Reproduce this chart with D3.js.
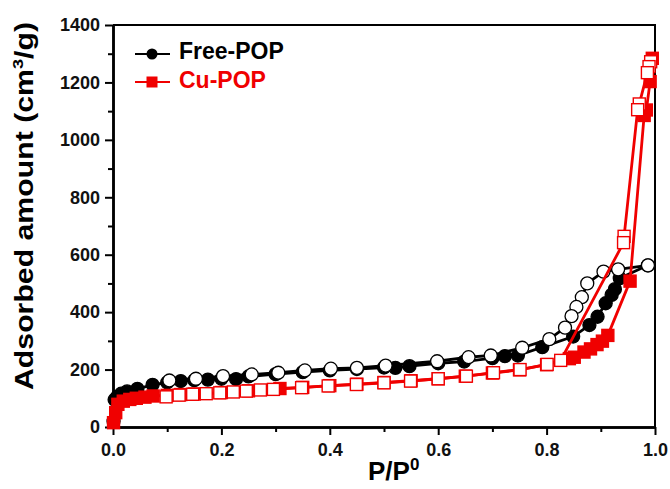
<!DOCTYPE html>
<html>
<head>
<meta charset="utf-8">
<script src="https://cdn.jsdelivr.net/npm/d3@7"></script>
<style>
  body { margin: 0; background: #fff; }
  svg { font-family: "Liberation Sans", Arial, sans-serif; font-weight: bold; }
</style>
</head>
<body>
<svg id="chart" width="670" height="489"></svg>
<script>
// isotherm data: [P/P0, adsorbed amount]
const freeAds = [
  [0.001, 20], [0.003, 95], [0.008, 106], [0.015, 116], [0.026, 124], [0.045, 133],
  [0.073, 147], [0.1, 155], [0.125, 160], [0.15, 163], [0.175, 165], [0.2, 168],
  [0.227, 167], [0.25, 176], [0.3, 184], [0.35, 191], [0.4, 197], [0.45, 202],
  [0.5, 207], [0.521, 206], [0.547, 212], [0.6, 222], [0.648, 228], [0.7, 240],
  [0.723, 247], [0.747, 249], [0.792, 278], [0.849, 315], [0.879, 355], [0.894, 384],
  [0.909, 431], [0.92, 460], [0.926, 480], [0.935, 518], [0.987, 563]
];
const freeDes = [
  [0.987, 563], [0.932, 549], [0.905, 541], [0.875, 500], [0.865, 452], [0.855, 418],
  [0.846, 386], [0.834, 346], [0.805, 306], [0.755, 276], [0.697, 249], [0.656, 243],
  [0.598, 229], [0.503, 214], [0.45, 206], [0.402, 203], [0.354, 197], [0.305, 189],
  [0.256, 183], [0.203, 177], [0.153, 168], [0.104, 162]
];
const cuAds = [
  [0.001, 15], [0.005, 50], [0.009, 79], [0.019, 90], [0.031, 96], [0.043, 100],
  [0.059, 104], [0.074, 108], [0.1, 110], [0.125, 113], [0.15, 115], [0.2, 120],
  [0.25, 126], [0.308, 134], [0.35, 138], [0.4, 144], [0.45, 149], [0.5, 155],
  [0.55, 161], [0.6, 168], [0.65, 177], [0.7, 188], [0.75, 199], [0.8, 217],
  [0.842, 238], [0.851, 243], [0.869, 261], [0.881, 272], [0.893, 287], [0.903, 299],
  [0.913, 319], [0.954, 508], [0.98, 1085], [0.984, 1104], [0.991, 1203], [0.995, 1284]
];
const cuDes = [
  [0.992, 1272], [0.989, 1255], [0.986, 1234], [0.971, 1125], [0.968, 1105],
  [0.943, 664], [0.942, 642], [0.826, 232], [0.801, 218], [0.751, 200], [0.702, 189],
  [0.652, 177], [0.6, 168], [0.549, 160], [0.5, 154], [0.449, 148], [0.397, 143],
  [0.348, 137], [0.296, 131], [0.272, 129], [0.246, 125], [0.222, 122], [0.197, 119],
  [0.172, 116], [0.147, 114], [0.122, 111], [0.098, 105]
];

const xTicks = [0, 0.2, 0.4, 0.6, 0.8, 1.0];
const xMinor = [0.1, 0.3, 0.5, 0.7, 0.9];
const yTicks = [0, 200, 400, 600, 800, 1000, 1200, 1400];
const yMinor = [100, 300, 500, 700, 900, 1100, 1300];

const legendNames = ["Free-POP", "Cu-POP"];

const RED = "#f00000";

const svg = d3.select("#chart");
const m = { left: 113, right: 655, top: 25, bottom: 427 };

const x = d3.scaleLinear().domain([0, 1]).range([m.left, m.right]);
const y = d3.scaleLinear().domain([0, 1400]).range([m.bottom, m.top]);

// frame (top + right)
svg.append("path")
  .attr("d", `M${m.left},${m.top}H${m.right}V${m.bottom}`)
  .attr("fill", "none").attr("stroke", "#000").attr("stroke-width", 2);

// axes
svg.append("g").attr("transform", `translate(0,${m.bottom})`)
  .call(d3.axisBottom(x).tickValues(xTicks).tickFormat(d3.format(".1f"))
    .tickSize(8).tickPadding(8).tickSizeOuter(0));
svg.append("g").attr("transform", `translate(0,${m.bottom})`)
  .call(d3.axisBottom(x).tickValues(xMinor).tickFormat("").tickSize(5).tickSizeOuter(0));

svg.append("g").attr("transform", `translate(${m.left},0)`)
  .call(d3.axisLeft(y).tickValues(yTicks).tickFormat(d3.format("d"))
    .tickSize(8).tickPadding(5).tickSizeOuter(0));
svg.append("g").attr("transform", `translate(${m.left},0)`)
  .call(d3.axisLeft(y).tickValues(yMinor).tickFormat("").tickSize(5).tickSizeOuter(0));

svg.selectAll(".domain").attr("stroke-width", 2.5);
svg.selectAll(".tick line").attr("stroke-width", 2);
svg.selectAll(".tick text")
  .attr("font-size", 18).attr("font-weight", "bold")
  .attr("font-family", "'Liberation Sans', Arial, sans-serif").attr("fill", "#111");

// axis titles
const yTitle = svg.append("text")
  .attr("transform", "translate(33,206) rotate(-90)")
  .attr("text-anchor", "middle")
  .attr("font-size", 25)
  .attr("textLength", 368).attr("lengthAdjust", "spacingAndGlyphs");
yTitle.append("tspan").text("Adsorbed amount (cm");
yTitle.append("tspan").attr("font-size", 15).attr("dy", -10).text("3");
yTitle.append("tspan").attr("dy", 10).text("/g)");

const xTitle = svg.append("text")
  .attr("x", 368).attr("y", 480)
  .attr("font-size", 26);
xTitle.append("tspan").text("P/P");
xTitle.append("tspan").attr("font-size", 17).attr("dy", -10).text("0");

// series
const line = d3.line().x(d => x(d[0])).y(d => y(d[1]));
const sq = 12, rc = 6.5;

function drawLine(data, color) {
  svg.append("path").datum(data)
    .attr("d", line).attr("fill", "none")
    .attr("stroke", color).attr("stroke-width", 2.8).attr("stroke-linejoin", "round");
}
function drawCircles(data, fill, stroke) {
  svg.append("g").selectAll("circle").data(data).join("circle")
    .attr("cx", d => x(d[0])).attr("cy", d => y(d[1])).attr("r", rc)
    .attr("fill", fill).attr("stroke", stroke).attr("stroke-width", 1.3);
}
function drawSquares(data, fill, stroke) {
  svg.append("g").selectAll("rect").data(data).join("rect")
    .attr("x", d => x(d[0]) - sq / 2).attr("y", d => y(d[1]) - sq / 2)
    .attr("width", sq).attr("height", sq)
    .attr("fill", fill).attr("stroke", stroke).attr("stroke-width", 1.4);
}

drawLine(freeAds, "#000");
drawLine(freeDes, "#000");
drawCircles(freeAds, "#000", "#000");
drawCircles(freeDes, "#fff", "#000");

drawLine(cuAds, RED);
drawLine(cuDes, RED);
drawSquares(cuAds, RED, RED);
drawSquares(cuDes, "#fff", RED);

// legend
const legend = svg.append("g");
[0, 1].forEach(i => {
  const ly = i === 0 ? 54 : 82;
  const color = i === 0 ? "#000" : RED;
  legend.append("line").attr("x1", 135).attr("x2", 170).attr("y1", ly).attr("y2", ly)
    .attr("stroke", color).attr("stroke-width", 2.2);
  if (i === 0) {
    legend.append("circle").attr("cx", 152).attr("cy", ly).attr("r", 5.5).attr("fill", color);
  } else {
    legend.append("rect").attr("x", 146.5).attr("y", ly - 5.5).attr("width", 11).attr("height", 11)
      .attr("fill", color);
  }
  legend.append("text").attr("x", 179).attr("y", ly + 5 + i * 1)
    .attr("font-size", 23).attr("fill", color).text(legendNames[i]);
});
</script>
</body>
</html>
